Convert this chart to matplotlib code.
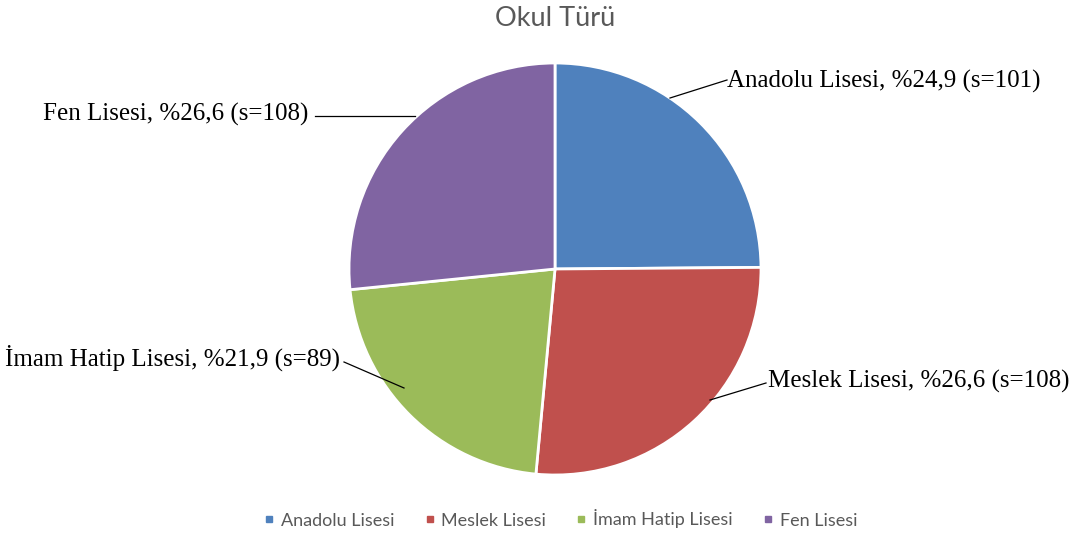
import matplotlib.pyplot as plt
from matplotlib.lines import Line2D

# --- data ---
labels = ["Anadolu Lisesi", "Meslek Lisesi", "İmam Hatip Lisesi", "Fen Lisesi"]
counts = [101, 108, 89, 108]
percents = ["24,9", "26,6", "21,9", "26,6"]
colors = ["#4F81BD", "#C0504D", "#9BBB59", "#8064A2"]

W, H = 1076, 536
fig = plt.figure(figsize=(W / 100, H / 100), dpi=100)
ax = fig.add_axes([0, 0, 1, 1])

cx, cy, r = 555, H - 269, 206
ax.pie(counts, colors=colors, startangle=90, counterclock=False,
       center=(cx, cy), radius=r, frame=True,
       wedgeprops=dict(edgecolor="white", linewidth=2))
ax.set_xlim(0, W)
ax.set_ylim(0, H)
ax.set_aspect("equal")
ax.axis("off")

# label text anchor (px, top-down y), alignment, leader line (text end -> wedge)
lab_pos = [
    (727, 81, "left", [(727, 80), (670, 98)]),
    (768, 381, "left", [(766, 383), (710, 400)]),
    (340, 358, "right", [(344, 362), (404, 388)]),
    (308, 114, "right", [(315, 116), (415, 116)]),
]
for name, n, p, (x, y, ha, line) in zip(labels, counts, percents, lab_pos):
    ax.text(x, H - y, f"{name}, %{p} (s={n})", ha=ha, va="center",
            fontsize=18, family="Liberation Serif", color="black")
    xs = [q[0] for q in line]
    ys = [H - q[1] for q in line]
    ax.plot(xs, ys, color="black", lw=0.9)

ax.text(555, H - 18, "Okul Türü", ha="center", va="center",
        fontsize=19.5, family="Lato", color="#595959")

handles = [Line2D([], [], marker="s", ls="none", color=c, markersize=5)
           for c in colors]
fig.legend(handles, labels, loc="center", bbox_to_anchor=(560 / W, 1 - 519 / H),
           ncol=4, frameon=False, handlelength=0.7, handletextpad=0.3,
           columnspacing=1.6, prop=dict(family="Lato", size=13),
           labelcolor="#595959")

plt.savefig("out.png", dpi=100)
